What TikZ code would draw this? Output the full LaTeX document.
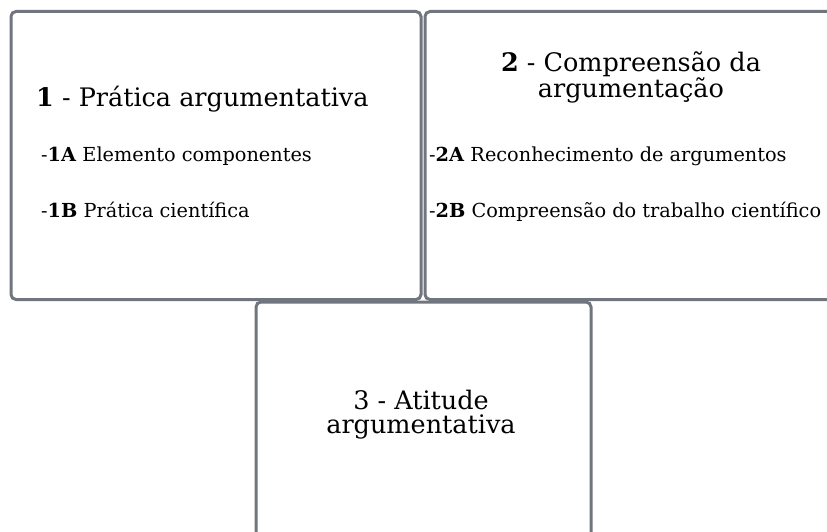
\documentclass[tikz,border=0pt]{standalone}
\usepackage{fontspec}
\setmainfont{DejaVu Serif}
\definecolor{boxgray}{RGB}{112,117,126}
\begin{document}
\begin{tikzpicture}[x=1pt,y=-1pt,
  panel/.style={draw=boxgray, line width=3pt, rounded corners=5pt, fill=white, inner sep=0pt, outer sep=0pt, anchor=north west},
  title/.style={font=\fontsize{25.5}{24}\selectfont, inner sep=0pt, align=center},
  item/.style={font=\fontsize{19.3}{24}\selectfont, anchor=base west, inner sep=0pt}]
\useasboundingbox (0,0) rectangle (827,532);
\fill[white] (0,0) rectangle (827,532);
\node[panel, minimum width=410pt, minimum height=288pt] (b1) at (11,11.5) {};
\node[panel, minimum width=420pt, minimum height=288pt] (b2) at (425,11.5) {};
\node[panel, minimum width=335pt, minimum height=250pt] (b3) at (256,302) {};
% box 1
\node[title, anchor=base west] (t1) at (36,107) {\textbf{1} - Prática argumentativa};
\node[item] (i1a) at (41,161) {-\textbf{1A} Elemento componentes};
\node[item] (i1b) at (41,217) {-\textbf{1B} Prática científica};
% box 2
\node[title, anchor=base] (t2) at (631,98) {\textbf{2} - Compreensão da\\argumentação};
\node[item] (i2a) at (429,161) {-\textbf{2A} Reconhecimento de argumentos};
\node[item] (i2b) at (429,217) {-\textbf{2B} Compreensão do trabalho científico};
% box 3
\node[title, anchor=base] (t3) at (421,433) {3 - Atitude\\argumentativa};
\end{tikzpicture}
\end{document}
